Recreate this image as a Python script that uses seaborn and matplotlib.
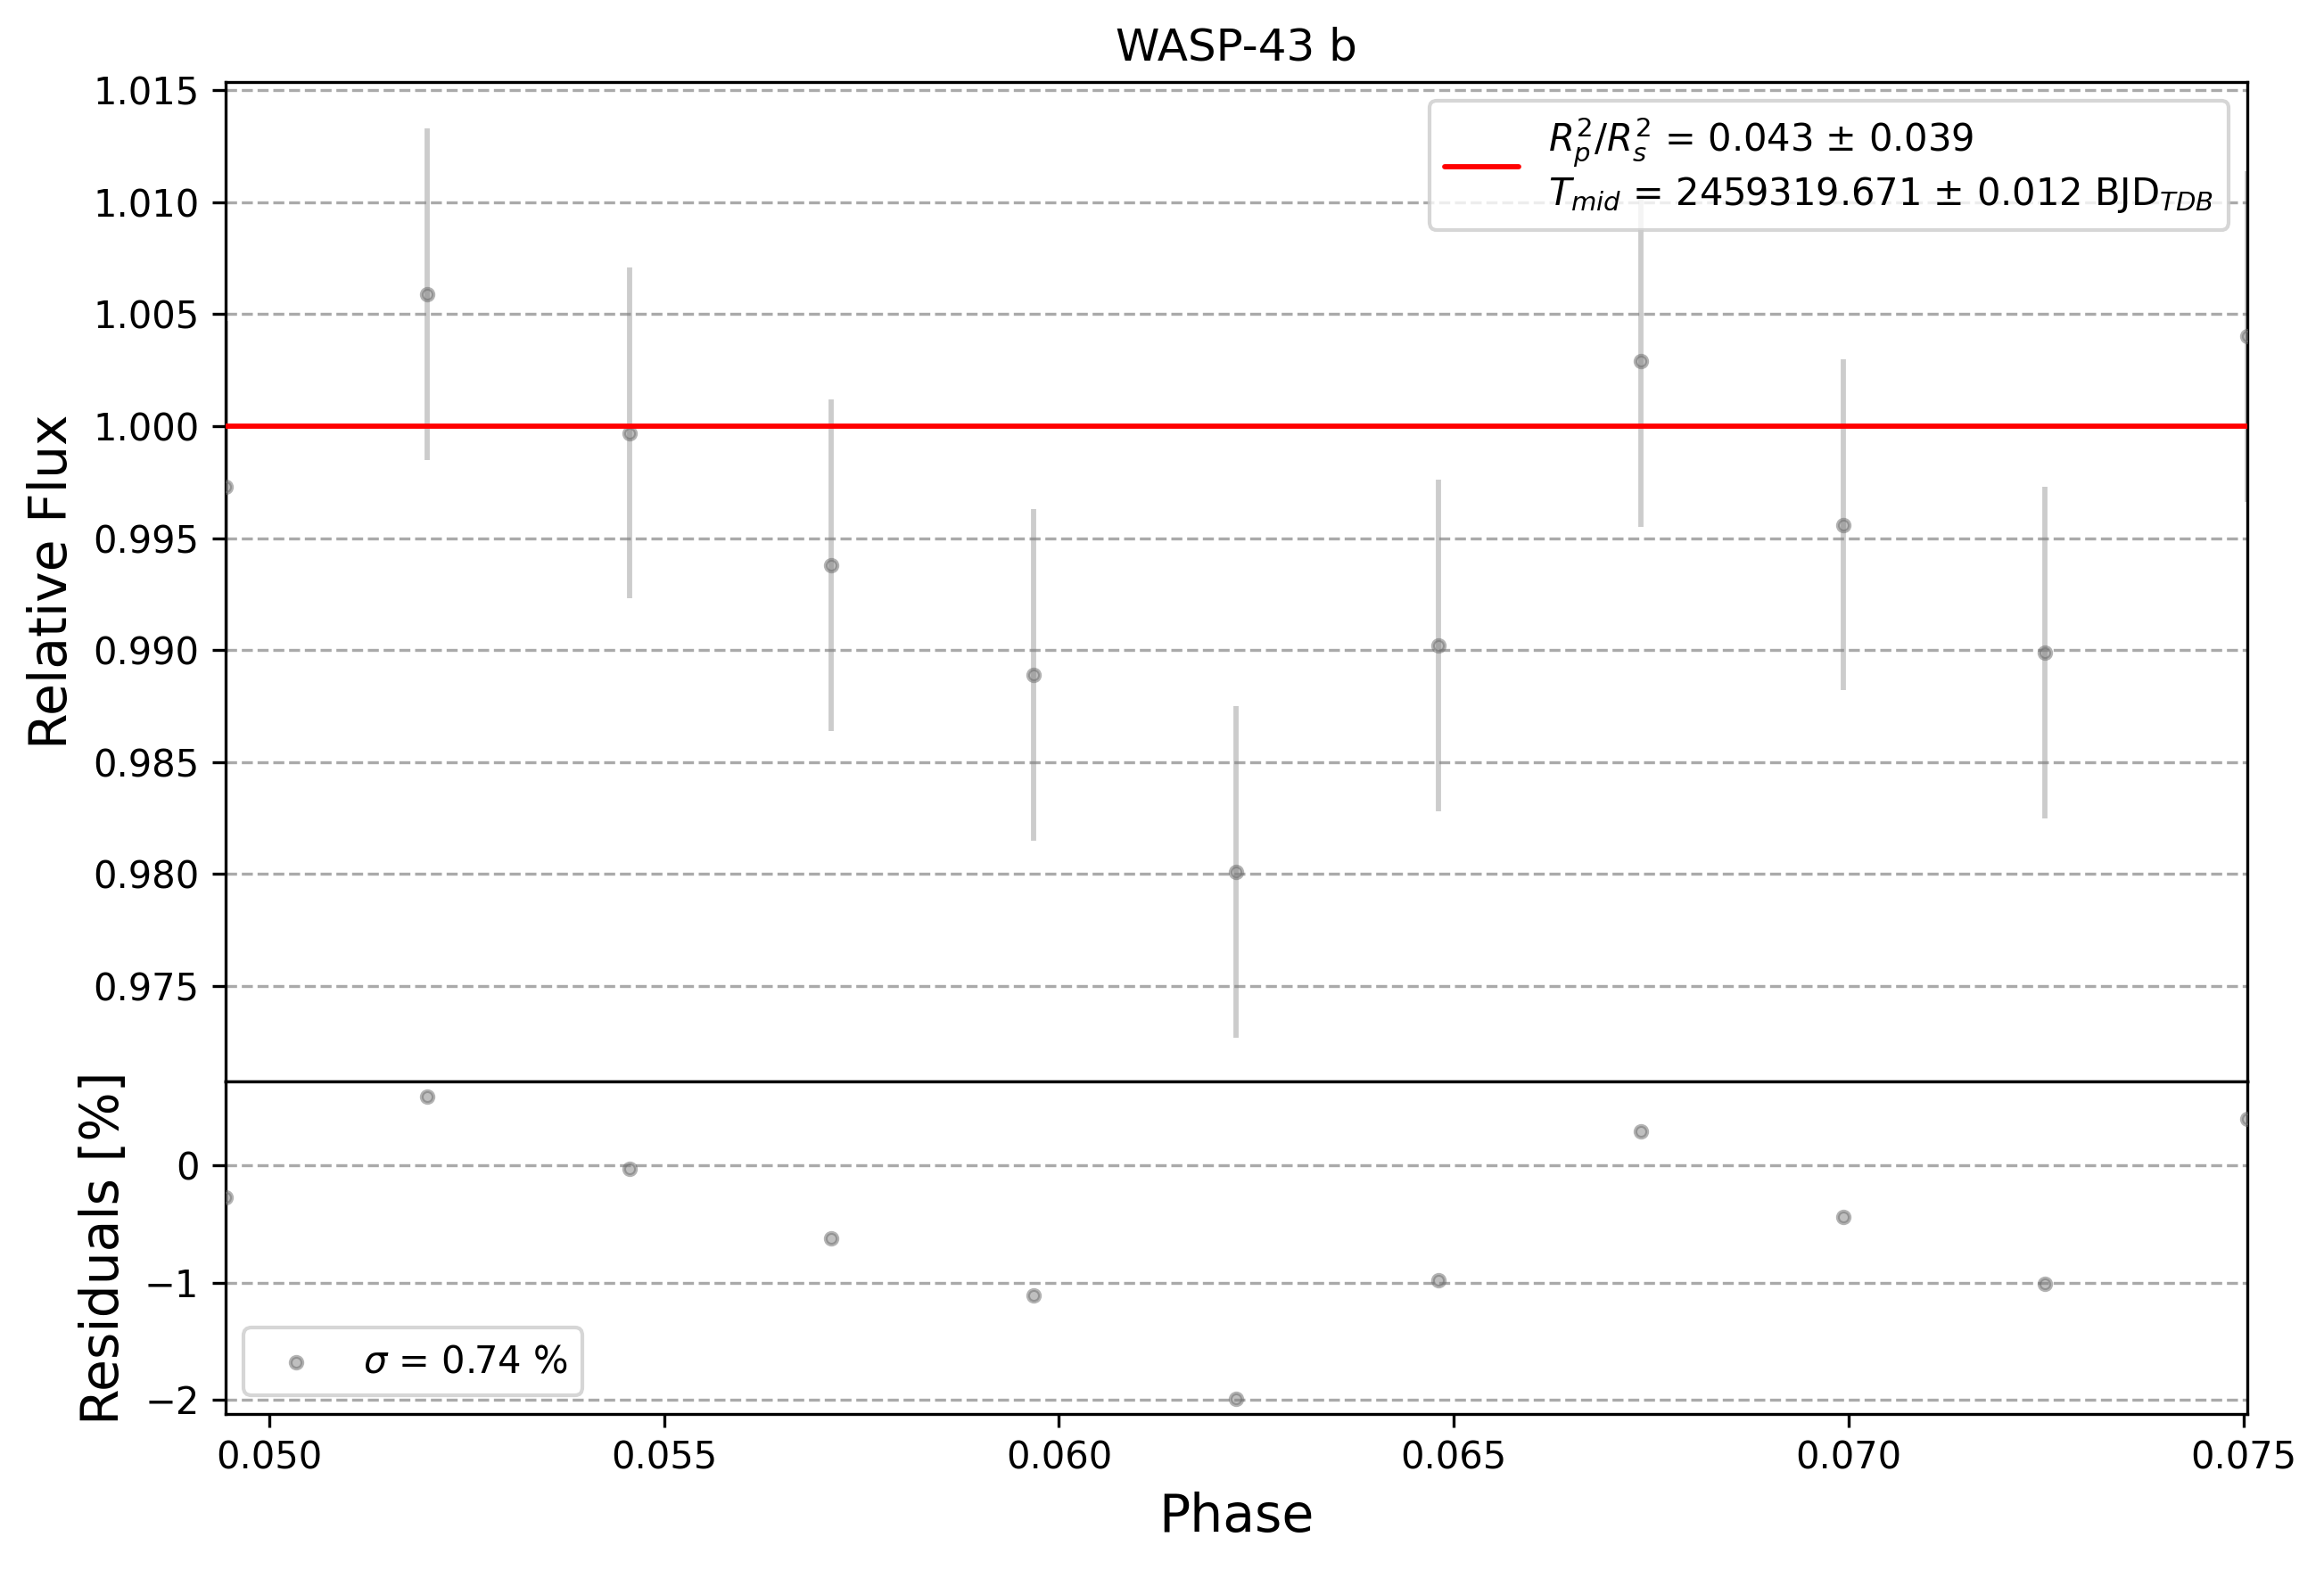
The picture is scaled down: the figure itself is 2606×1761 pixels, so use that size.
import numpy as np
import pandas as pd
import matplotlib
matplotlib.use("Agg")
import matplotlib.pyplot as plt
import seaborn as sns

# ---- data ----
phase = [0.04944, 0.05200, 0.05456, 0.05712, 0.05968, 0.06224,
         0.06481, 0.06737, 0.06993, 0.07249, 0.07505]
flux = [0.9973, 1.0059, 0.9997, 0.9938, 0.9889, 0.9801,
        0.9902, 1.0029, 0.9956, 0.9899, 1.0040]
flux_err = [0.0074, 0.0074, 0.0074, 0.0074, 0.0074, 0.0074,
            0.0074, 0.0074, 0.0074, 0.0074, 0.0074]
model = [1.0, 1.0, 1.0, 1.0, 1.0, 1.0, 1.0, 1.0, 1.0, 1.0, 1.0]
residuals = [-0.27, 0.59, -0.03, -0.62, -1.11, -1.99,
             -0.98, 0.29, -0.44, -1.01, 0.40]

x_ticks = [0.050, 0.055, 0.060, 0.065, 0.070, 0.075]
flux_ticks = [0.975, 0.980, 0.985, 0.990, 0.995, 1.000, 1.005, 1.010, 1.015]
res_ticks = [-2, -1, 0]

title = "WASP-43 b"
model_label = (r"$R_{p}^{2}/R_{s}^{2}$ = 0.043 ± 0.039" + "\n"
               + r"$T_{mid}$ = 2459319.671 ± 0.012 BJD$_{TDB}$")
res_label = r"$\sigma$ = 0.74 %"

df = pd.DataFrame({"phase": phase, "flux": flux, "err": flux_err,
                   "model": model, "res": residuals})

# ---- style ----
sns.set_style("ticks")
plt.rcParams["font.family"] = ["DejaVu Sans"]
plt.rcParams["xtick.labelsize"] = 10
plt.rcParams["ytick.labelsize"] = 10
plt.rcParams["text.color"] = "black"
plt.rcParams["axes.labelcolor"] = "black"
plt.rcParams["xtick.color"] = "black"
plt.rcParams["ytick.color"] = "black"
plt.rcParams["axes.edgecolor"] = "black"

fig = plt.figure(figsize=(2606 / 300, 1761 / 300), dpi=300)
left, width = 0.0969, 0.8701
ax = fig.add_axes([left, 0.311, width, 0.6367])
ax2 = fig.add_axes([left, 0.0996, width, 0.2114], sharex=ax)

grid_kw = dict(color="#aaaaaa", linestyle="--", linewidth=0.8)

# top panel
ax.errorbar(df["phase"], df["flux"], yerr=df["err"], fmt="none",
            ecolor="gray", alpha=0.4, elinewidth=1.4, zorder=2)
sns.scatterplot(data=df, x="phase", y="flux", ax=ax, color="gray",
                alpha=0.5, s=10, edgecolor="dimgray", linewidth=1.0,
                zorder=3, legend=False)
sns.lineplot(data=df, x="phase", y="model", ax=ax, color="red",
             linewidth=1.4, estimator=None, sort=False, zorder=4,
             label=model_label)
ax.set_xlim(0.04944, 0.07505)
ax.set_ylim(0.97073, 1.01536)
ax.set_yticks(flux_ticks)
ax.set_yticklabels([f"{t:.3f}" for t in flux_ticks])
ax.yaxis.grid(True, **grid_kw)
ax.set_axisbelow(True)
ax.tick_params(axis="x", labelbottom=False)
ax.set_xlabel("")
ax.set_ylabel("Relative Flux", fontsize=14, color="black")
ax.set_title(title, fontsize=12, color="black")
ax.legend(loc="upper right", fontsize=10)

# residual panel
sns.scatterplot(data=df, x="phase", y="res", ax=ax2, color="gray",
                alpha=0.5, s=10, edgecolor="dimgray", linewidth=1.0,
                zorder=3, label=res_label)
ax2.set_ylim(-2.119, 0.715)
ax2.set_yticks(res_ticks)
ax2.set_xticks(x_ticks)
ax2.set_xticklabels([f"{t:.3f}" for t in x_ticks])
ax2.yaxis.grid(True, **grid_kw)
ax2.set_axisbelow(True)
ax2.set_xlabel("Phase", fontsize=14, color="black")
ax2.set_ylabel("Residuals [%]", fontsize=14, color="black")
ax2.legend(loc="lower left", fontsize=10)

for a in (ax, ax2):
    for sp in a.spines.values():
        sp.set_color("black")
        sp.set_linewidth(0.8)
    a.tick_params(colors="black", labelcolor="black", length=3.5, width=0.8)

fig.savefig("out.png", dpi=300)
